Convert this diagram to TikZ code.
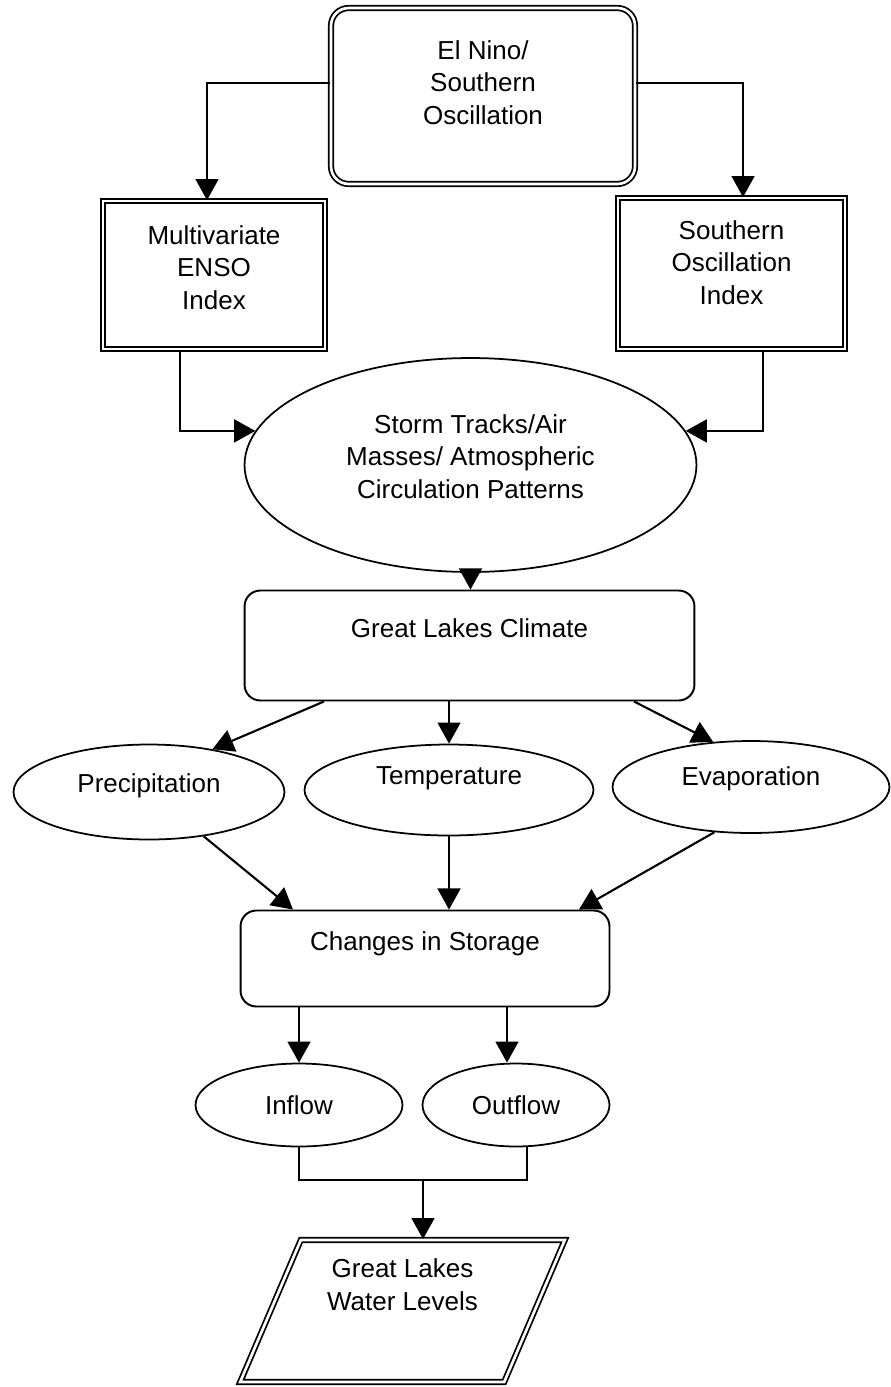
\documentclass[tikz,border=0pt]{standalone}
\usepackage{fontspec}
\setmainfont{Liberation Sans}
\usetikzlibrary{positioning,shapes.geometric,arrows.meta}

\newcommand{\lift}[1]{\\[#1]\mbox{}}

\begin{document}
\begin{tikzpicture}[
    x=0.02cm, y=-0.02cm,
    font={\fontsize{14.8}{18.5}\selectfont},
    every node/.style={align=center, inner sep=0pt},
    dblbox/.style={draw, double, line width=1pt, double distance=1.5pt},
    roundbox/.style={draw, line width=1.1pt, rounded corners=9pt},
    oval/.style={draw, ellipse, line width=1pt},
    link/.style={line width=1.2pt, -{Triangle[length=12pt,width=13pt]}},
    wire/.style={line width=1.2pt},
]

    \useasboundingbox (0,0) rectangle (890,1387);

    \node[dblbox, rounded corners=10pt, minimum width=6.08cm, minimum height=3.52cm] (enso) at (483,96) {El Nino/\\Southern\\Oscillation\lift{-2.9pt}};
    \node[dblbox, minimum width=4.44cm, minimum height=2.96cm] (mei) at (214,275) {Multivariate\\ENSO\\Index\lift{-9.7pt}};
    \node[dblbox, minimum width=4.54cm, minimum height=3.02cm] (soi) at (731.5,273.5) {Southern\\Oscillation\\Index\lift{-5.7pt}};
    \node[oval, minimum width=9.04cm, minimum height=4.28cm] (storm) at (470.5,465) {Storm Tracks/Air\\Masses/ Atmospheric\\Circulation Patterns\lift{-8.6pt}};
    \node[roundbox, minimum width=9cm, minimum height=2.2cm] (glc) at (469.5,645.5) {Great Lakes Climate\lift{1.1pt}};

    \node[oval, minimum width=5.42cm, minimum height=1.9cm] (prec) at (149,792) {Precipitation\lift{-7.8pt}};
    \node[oval, minimum width=5.78cm, minimum height=1.82cm] (temp) at (449,790) {Temperature\lift{-2.1pt}};
    \node[oval, minimum width=5.54cm, minimum height=1.84cm] (evap) at (751,787) {Evaporation\lift{-5.6pt}};

    \node[roundbox, minimum width=7.38cm, minimum height=1.92cm] (store) at (425,958.5) {Changes in Storage\lift{1.8pt}};
    \node[oval, minimum width=4.14cm, minimum height=1.66cm] (inflow) at (299,1105) {Inflow};
    \node[oval, minimum width=3.74cm, minimum height=1.66cm] (outflow) at (516,1105) {Outflow};
    \node[dblbox, trapezium, trapezium left angle=66.6, trapezium right angle=113.4, trapezium stretches=true, minimum width=6.5cm, minimum height=2.84cm] (levels) at (402.5,1311) {Great Lakes\\Water Levels\lift{11.4pt}};

    \draw[link] ([yshift=0.26cm]enso.west) -| ([xshift=-0.14cm]mei.north);
    \draw[link] ([yshift=0.26cm]enso.east) -| ([xshift=0.23cm]soi.north);
    \draw[link] ([xshift=-0.68cm]mei.south) |- (storm.171);
    \draw[link] ([xshift=0.63cm]soi.south) |- (storm.9);
    \draw[link] (storm.south) -- (storm.south |- glc.north);

    \draw[link] ([xshift=-2.91cm]glc.south) -- (prec.34);
    \draw[link] (temp.north |- glc.south) -- (temp.north);
    \draw[link] ([xshift=3.29cm]glc.south) -- (evap.130);

    \draw[link] (prec.-39) -- ([xshift=-2.64cm]store.north);
    \draw[link] (temp.south) -- (temp.south |- store.north);
    \draw[link] (evap.-129) -- ([xshift=3.08cm]store.north);

    \draw[link] (inflow.north |- store.south) -- (inflow.north);
    \draw[link] ([xshift=1.64cm]store.south) -- ([xshift=1.64cm]store.south |- outflow.north);

    \coordinate (join) at (423,1180);
    \draw[wire] (inflow.south) |- (join) -| ([xshift=0.22cm]outflow.south);
    \draw[link] (join) -- (join |- levels.north);

\end{tikzpicture}
\end{document}
